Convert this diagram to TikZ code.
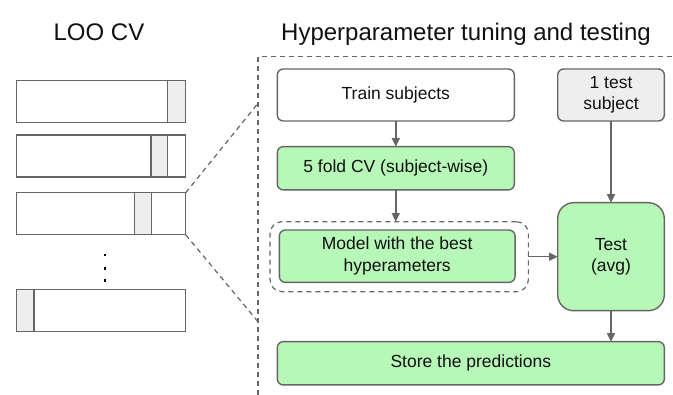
\documentclass[tikz,border=0pt]{standalone}
\usepackage{fontspec}
\setmainfont{Liberation Sans}
\usetikzlibrary{arrows.meta}
\definecolor{linegray}{HTML}{666666}
\definecolor{boxgreen}{HTML}{B7F7B7}
\definecolor{boxgray}{HTML}{EEEEEE}
\definecolor{txt}{HTML}{111111}
\begin{document}
\begin{tikzpicture}[x=1pt,y=-1pt,
  box/.style={draw=linegray, line width=1.4pt, rounded corners=6pt, inner sep=0pt, outer sep=0pt,
    font=\fontsize{17.5}{21.5}\selectfont, align=center, text=txt},
  bar/.style={draw=linegray, line width=1.4pt, fill=white, inner sep=0pt, outer sep=0pt,
    minimum width=169pt, minimum height=42pt},
  seg/.style={draw=linegray, line width=1.4pt, fill=boxgray},
  conn/.style={draw=linegray, line width=1.4pt, -{Triangle[length=8.5pt,width=8pt]}},
  dashline/.style={draw=linegray, line width=1.2pt, dash pattern=on 5pt off 4pt},
  title/.style={font=\fontsize{24}{26}\selectfont, text=txt, anchor=base, inner sep=0pt}
]
\useasboundingbox (0,0) rectangle (673,395);
\fill[white] (0,0) rectangle (673,395);

% titles
\node[title] (t1) at (99,41) {LOO CV};
\node[title] (t2) at (466,41) {Hyperparameter tuning and testing};

% bars
\node[bar] (bar1) at (101.2,101.7) {};
\draw[seg] (167.7,80.7) rectangle (185.7,122.7);
\node[bar] (bar2) at (101.2,156) {};
\draw[seg] (151,135) rectangle (167.7,177);
\node[bar] (bar3) at (101.2,213.8) {};
\draw[seg] (134.7,192.8) rectangle (151.7,234.8);
\node[bar] (bar4) at (101.2,310.8) {};
\draw[seg] (16.7,289.8) rectangle (34,331.8);

% dots
\fill[black] (103.6,253.6) rectangle +(2.8,2.8);
\fill[black] (103.6,266.8) rectangle +(2.8,2.8);
\fill[black] (103.6,279.3) rectangle +(2.8,2.8);

% frame and zoom lines
\draw[dashline] (258,395) -- (258,56.7) -- (673,56.7);
\coordinate (fa) at (258,103.3);
\coordinate (fb) at (258,321.7);
\draw[dashline] (bar3.north east) -- (fa);
\draw[dashline] (bar3.south east) -- (fb);

% right boxes
\node[box, fill=white, minimum width=237pt, minimum height=52pt] (train) at (395.8,95) {Train subjects};
\node[box, fill=boxgray, minimum width=106.6pt, minimum height=52pt] (tsub) at (611,95) {1 test\\subject};
\node[box, fill=boxgreen, minimum width=237pt, minimum height=43.3pt] (fold) at (395.8,168.3) {5 fold CV (subject-wise)};
\node[draw=linegray, line width=1.2pt, dash pattern=on 5pt off 4pt, rounded corners=12pt,
  inner sep=0pt, outer sep=0pt, minimum width=258.3pt, minimum height=70pt] (dbox) at (399.2,256.7) {};
\node[box, fill=boxgreen, minimum width=235.7pt, minimum height=52.3pt] (model) at (397.2,256.2) {Model with the best\\hyperameters};
\node[box, fill=boxgreen, rounded corners=16pt, minimum width=106.6pt, minimum height=108pt] (test) at (611,256.7) {Test\\(avg)};
\node[box, fill=boxgreen, minimum width=387pt, minimum height=43.3pt] (store) at (470.8,363.3) {Store the predictions};

% connectors
\draw[conn] (train) -- (fold);
\draw[conn] (fold.south) -- (fold.south |- dbox.north);
\draw[conn] (tsub) -- (test);
\draw[conn] (dbox.east) -- (dbox.east -| test.west);
\draw[conn] (test.south) -- (test.south |- store.north);
\end{tikzpicture}
\end{document}
